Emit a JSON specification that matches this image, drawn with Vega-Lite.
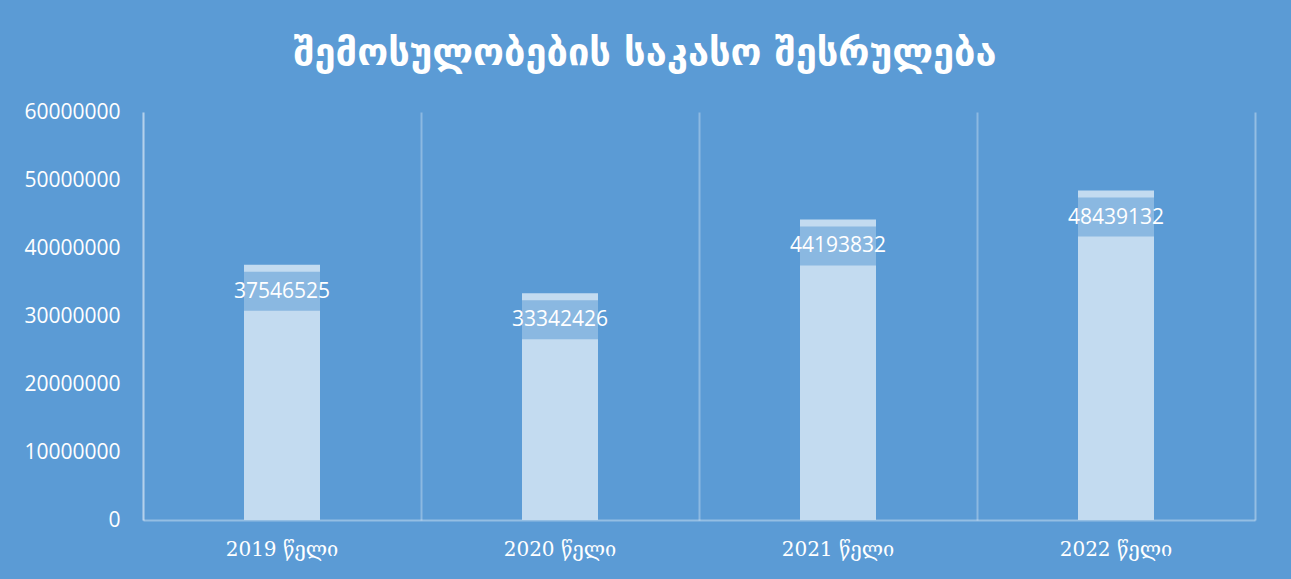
{
  "$schema": "https://vega.github.io/schema/vega-lite/v6.json",
  "autosize": "none",
  "width": 1112,
  "height": 408,
  "padding": {"left": 143, "top": 112, "right": 36, "bottom": 59},
  "background": "#5B9BD5",
  "title": {
    "text": "შემოსულობების საკასო შესრულება",
    "font": "DejaVu Sans",
    "fontSize": 38,
    "fontWeight": "bold",
    "color": "#FFFFFF",
    "anchor": "middle",
    "dx": -54,
    "offset": 28
  },
  "data": {
    "values": [
      {"year": "2019 წელი", "value": 37546525},
      {"year": "2020 წელი", "value": 33342426},
      {"year": "2021 წელი", "value": 44193832},
      {"year": "2022 წელი", "value": 48439132}
    ]
  },
  "config": {
    "view": {"stroke": null},
    "axis": {
      "domainColor": "rgba(255,255,255,0.35)",
      "domainWidth": 2,
      "gridColor": "rgba(255,255,255,0.3)",
      "gridWidth": 2,
      "labelColor": "#FFFFFF",
      "ticks": false,
      "title": null
    }
  },
  "resolve": {"axis": {"y": "independent"}},
  "layer": [
    {
      "mark": {"type": "bar", "width": 76, "fill": "#C3DBF0"},
      "encoding": {
        "x": {
          "field": "year",
          "type": "nominal",
          "sort": null,
          "scale": {"paddingInner": 0, "paddingOuter": 0},
          "axis": {
            "labelAngle": 0,
            "labelFont": "DejaVu Serif",
            "labelFontSize": 20,
            "labelPadding": 19,
            "grid": true,
            "bandPosition": 0
          }
        },
        "y": {
          "field": "value",
          "type": "quantitative",
          "scale": {"domain": [0, 60000000]},
          "axis": {
            "values": [0, 10000000, 20000000, 30000000, 40000000, 50000000, 60000000],
            "format": "d",
            "labelFont": "Open Sans",
            "labelFontSize": 21,
            "labelPadding": 23,
            "grid": false
          }
        }
      }
    },
    {
      "mark": {"type": "tick", "orient": "horizontal", "size": 76, "thickness": 39, "yOffset": 26.5, "color": "#5B9BD5", "opacity": 0.55},
      "encoding": {
        "x": {"field": "year", "type": "nominal", "sort": null},
        "y": {
          "field": "value",
          "type": "quantitative",
          "axis": {"orient": "right", "labels": false, "ticks": false, "grid": false, "title": null}
        }
      }
    },
    {
      "mark": {"type": "text", "yOffset": 27, "baseline": "middle", "align": "center", "font": "Open Sans", "fontSize": 21, "color": "#FFFFFF"},
      "encoding": {
        "x": {"field": "year", "type": "nominal", "sort": null},
        "y": {"field": "value", "type": "quantitative", "axis": null},
        "text": {"field": "value", "type": "quantitative", "format": "d"}
      }
    }
  ]
}
